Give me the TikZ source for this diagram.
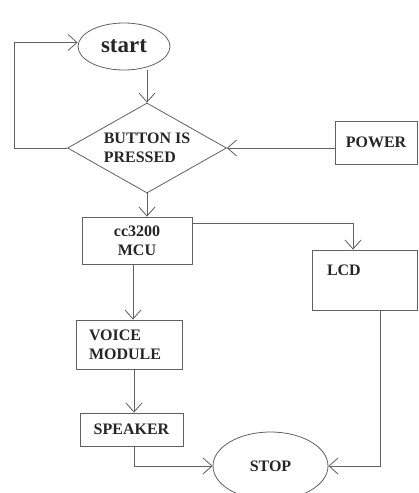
\documentclass[tikz,border=0pt]{standalone}
\usepackage{fontspec}
\setmainfont{Liberation Serif}
\usetikzlibrary{shapes.geometric,arrows.meta,calc}
\begin{document}
\begin{tikzpicture}[x=1pt,y=-1pt,
  every node/.style={font=\fontsize{16}{19}\selectfont\bfseries, text=black!85},
  ln/.style={draw=black!62, line width=0.8pt},
  arr/.style={ln, -{Straight Barb[length=9pt,width=16pt]}},
  boxn/.style={ln, rectangle, inner sep=0pt, align=center},
  ell/.style={ln, ellipse, inner sep=0pt},
]
\useasboundingbox (0,0) rectangle (419,493);
\node[ell, minimum width=92pt, minimum height=47pt, font=\fontsize{23}{24}\selectfont\bfseries] (start) at (124,46.5) {start};
\node[ln, diamond, aspect=1.8, inner sep=0pt, minimum width=159pt, minimum height=90pt, align=left] (dia) at (147,148) {BUTTON IS\\PRESSED};
\node[boxn, minimum width=82pt, minimum height=43pt] (power) at (376,142.5) {POWER};
\node[boxn, minimum width=110pt, minimum height=47pt] (mcu) at (137,240.5) {cc3200\\MCU};
\node[ln, rectangle, inner ysep=0pt, inner xsep=15pt, text width=75pt, align=left, text height=25.3pt, text depth=34.7pt] (lcd) at (364.5,280) {LCD};
\node[ln, rectangle, inner ysep=0pt, inner xsep=13pt, text width=80pt, align=left, minimum height=49pt] (voice) at (129,344.5) {VOICE\\MODULE};
\node[boxn, minimum width=103pt, minimum height=33pt] (spk) at (131.5,429.5) {SPEAKER};
\node[ell, minimum width=115pt, minimum height=68pt] (stop) at (270.5,466) {STOP};
\coordinate (lp) at (14,0);
\draw[arr] (dia.north |- start.south) -- (dia.north);
\draw[arr] (dia.west) -- (dia.west -| lp) |- ([yshift=4pt]start.west);
\draw[arr] (power.west |- dia.east) -- (dia.east);
\draw[arr] (dia.south) -- (dia.south |- mcu.north);
\draw[arr] ([yshift=-7pt]mcu.north east) -| ([xshift=-11.5pt]lcd.north);
\draw[arr] ([xshift=-4pt]mcu.south) -- ([xshift=-4pt]mcu.south |- voice.north);
\draw[arr] ([xshift=5pt]voice.south) -- ([xshift=5pt]voice.south |- spk.north);
\draw[arr] ([xshift=2.5pt]spk.south) |- (stop.west);
\draw[arr] ([xshift=15.5pt]lcd.south) |- (stop.east);
\end{tikzpicture}
\end{document}
